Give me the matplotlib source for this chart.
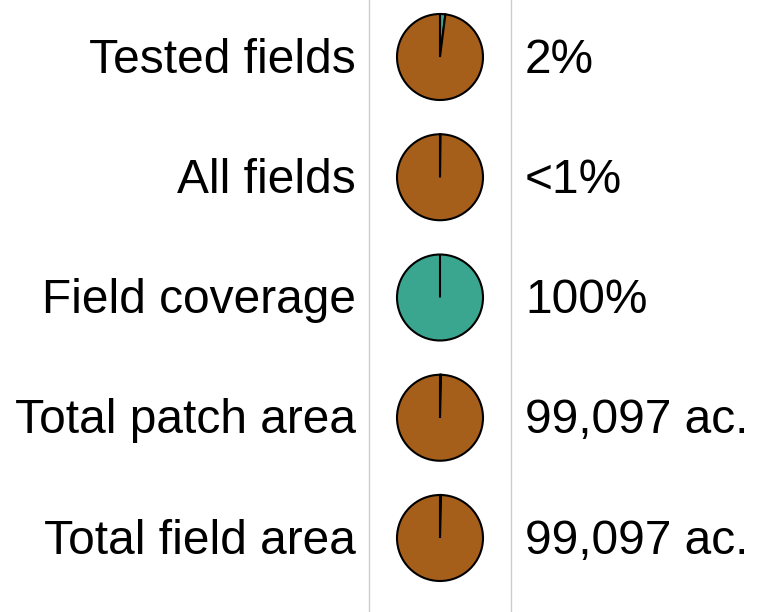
import matplotlib
matplotlib.use('Agg')
import matplotlib.pyplot as plt

# rows of the chart
labels = ['Tested fields', 'All fields', 'Field coverage', 'Total patch area', 'Total field area']
value_text = ['2%', '<1%', '100%', '99,097 ac.', '99,097 ac.']
# share of teal in each pie (percent)
teal_share = [2, 0.2, 100, 0.4, 0.4]

teal = '#3aa68f'
brown = '#a65f1b'

plt.rcParams['font.family'] = ['Liberation Sans', 'DejaVu Sans']

fig = plt.figure(figsize=(7.68, 6.12), dpi=100)
ax = fig.add_axes([0, 0, 1, 1])

# layout in pixels
row_y = [57 + i * 120.25 for i in range(len(labels))]
pie_x = 440
pie_r = 43
fs = 34.5

for i, lab in enumerate(labels):
    y = 612 - row_y[i]
    share = teal_share[i]
    ax.pie([share, 100 - share], colors=[teal, brown], center=(pie_x, y), radius=pie_r,
           startangle=90, counterclock=False, normalize=True,
           wedgeprops=dict(edgecolor='black', linewidth=1.5))
    ax.text(356, y - 15.7, lab, ha='right', va='baseline', fontsize=fs, color='black')
    ax.text(525, y - 15.7, value_text[i], ha='left', va='baseline', fontsize=fs, color='black')

ax.axvline(369, color='#cccccc', linewidth=1)
ax.axvline(511, color='#cccccc', linewidth=1)

ax.set_xlim(0, 768)
ax.set_ylim(0, 612)
ax.set_aspect('auto')
ax.axis('off')

fig.savefig('out.png', dpi=100)
